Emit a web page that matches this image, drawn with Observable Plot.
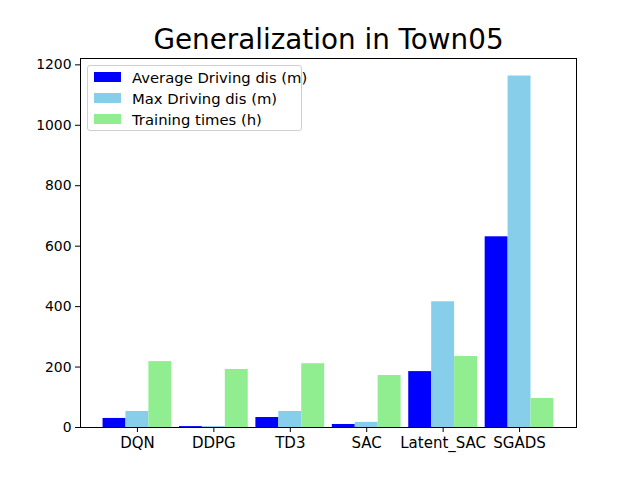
<!DOCTYPE html>
<html>
<head>
<meta charset="utf-8">
<script src="https://cdn.jsdelivr.net/npm/d3@7"></script>
<script src="https://cdn.jsdelivr.net/npm/@observablehq/plot@0.6"></script>
<style>
  body { margin: 0; background: #fff; }
  #wrap { position: relative; width: 640px; height: 480px; font-family: "DejaVu Sans", sans-serif; }
  #legend { position: absolute; left: 87px; top: 65px; width: 215px; height: 66px; border: 1px solid #d0d0d0; border-radius: 3px; background: rgba(255,255,255,0.8); box-sizing: border-box; font-size: 14.8px; color: #000; }
  .row { position: absolute; left: 6px; height: 16px; display: flex; align-items: center; }
  .sw { width: 27px; height: 10px; margin-right: 11px; flex: none; }
  .row span { white-space: nowrap; }
</style>
</head>
<body>
<div id="wrap"></div>
<script>
const categories = ["DQN", "DDPG", "TD3", "SAC", "Latent_SAC", "SGADS"];
const seriesNames = ["Average Driving dis (m)", "Max Driving dis (m)", "Training times (h)"];
const seriesColors = ["#0000ff", "#87ceeb", "#90ee90"];
const avgDriving = [30, 3, 33, 10, 185, 631];
const maxDriving = [53, 3, 53, 17, 416, 1163];
const trainingTimes = [218, 192, 211, 172, 235, 96];
const yTicks = [0, 200, 400, 600, 800, 1000, 1200];

const seriesValues = [avgDriving, maxDriving, trainingTimes];
const rows = [];
seriesValues.forEach((vals, s) => {
  vals.forEach((v, i) => rows.push({cat: categories[i], i, s, series: seriesNames[s], value: v}));
});

const barW = 0.3;
const chart = Plot.plot({
  width: 640,
  height: 480,
  marginTop: 58,
  marginBottom: 53,
  marginLeft: 80,
  marginRight: 64,
  style: {fontFamily: "DejaVu Sans, sans-serif", fontSize: "13.9px", color: "#000", background: "#fff"},
  x: {domain: [-0.745, 5.745], label: null},
  y: {domain: [0, 1221], label: null},
  color: {domain: seriesNames, range: seriesColors},
  marks: [
    Plot.rectY(rows, {
      x1: d => d.i + (d.s - 1) * barW - barW / 2,
      x2: d => d.i + (d.s - 1) * barW + barW / 2,
      y1: 0, y2: "value", fill: "series"
    }),
    Plot.axisX({ticks: d3.range(categories.length), tickFormat: i => categories[i], fontSize: 15, tickSize: 5, tickPadding: 5, label: null}),
    Plot.axisY({ticks: yTicks, tickFormat: d => String(d), tickSize: 5, tickPadding: 4, fontSize: 13.9, label: null}),
    Plot.frame({stroke: "#000", strokeWidth: 1}),
    Plot.text(["Generalization in Town05"], {frameAnchor: "top", dy: -18, fontSize: 27.8, lineAnchor: "middle", fill: "#000"})
  ]
});
const wrap = document.getElementById("wrap");
wrap.appendChild(chart);

const legend = document.createElement("div");
legend.id = "legend";
seriesNames.forEach((n, k) => {
  const r = document.createElement("div");
  r.className = "row";
  r.style.top = (3 + k * 21) + "px";
  const sw = document.createElement("div");
  sw.className = "sw";
  sw.style.background = seriesColors[k];
  const t = document.createElement("span");
  t.textContent = n;
  r.appendChild(sw); r.appendChild(t);
  legend.appendChild(r);
});
wrap.appendChild(legend);
</script>
</body>
</html>
